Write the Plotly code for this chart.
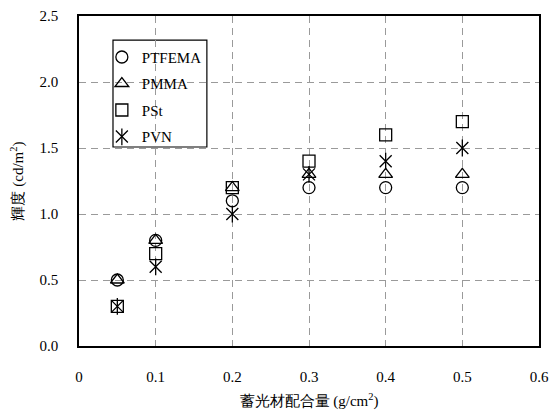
import plotly.graph_objects as go

x_vals = [0.05, 0.1, 0.2, 0.3, 0.4, 0.5]
ptfema = [0.5, 0.8, 1.1, 1.2, 1.2, 1.2]
pmma = [0.5, 0.8, 1.2, 1.3, 1.3, 1.3]
pst = [0.3, 0.7, 1.2, 1.4, 1.6, 1.7]
pvn = [0.3, 0.6, 1.0, 1.3, 1.4, 1.5]

x_ticks = [0, 0.1, 0.2, 0.3, 0.4, 0.5, 0.6]
x_ticktext = ["0", "0.1", "0.2", "0.3", "0.4", "0.5", "0.6"]
y_ticks = [0.0, 0.5, 1.0, 1.5, 2.0, 2.5]
y_ticktext = ["0.0", "0.5", "1.0", "1.5", "2.0", "2.5"]

FONT = "Liberation Serif, Times New Roman, serif"

fig = go.Figure()
series = [
    ("PTFEMA", ptfema, "circle-open"),
    ("PMMA", pmma, "triangle-up-open"),
    ("PSt", pst, "square-open"),
    ("PVN", pvn, "x-thin-open"),
]
for name, ys, sym in series:
    fig.add_trace(go.Scatter(
        x=x_vals, y=ys, mode="markers", name=name, legendgroup=name,
        marker=dict(symbol=sym, size=12, color="black", line=dict(color="black", width=1.3)),
    ))
# vertical bar of the PVN asterisk
fig.add_trace(go.Scatter(
    x=x_vals, y=pvn, mode="markers", name=" ", legend="legend2", legendgroup="PVN2",
    marker=dict(symbol="line-ns-open", size=12, color="black", line=dict(color="black", width=1.3)),
))

axis_common = dict(
    showline=True, linecolor="black", linewidth=1.5, mirror=True,
    showgrid=True, gridcolor="#9a9a9a", gridwidth=1, griddash="7px,5px",
    zeroline=False, ticks="", automargin=False,
    tickfont=dict(family=FONT, size=15, color="black"),
)

fig.update_layout(
    width=557, height=416,
    margin=dict(l=79, r=18, t=16, b=70),
    paper_bgcolor="white", plot_bgcolor="white",
    font=dict(family=FONT, color="black"),
    xaxis=dict(
        range=[0, 0.6], tickvals=x_ticks, ticktext=x_ticktext,
        ticklabelstandoff=16,
        title=dict(text="蓄光材配合量 (g/cm<sup>2</sup>)", font=dict(family=FONT, size=15), standoff=12),
        **axis_common,
    ),
    yaxis=dict(
        range=[0, 2.5], tickvals=y_ticks, ticktext=y_ticktext,
        ticklabelstandoff=16,
        title=dict(text="輝度 (cd/m<sup>2</sup>)", font=dict(family=FONT, size=15), standoff=12),
        **axis_common,
    ),
    legend=dict(
        x=0.0497, y=0.925, xanchor="left", yanchor="top",
        bgcolor="rgba(0,0,0,0)", borderwidth=0,
        font=dict(family=FONT, size=15, color="black"),
        tracegroupgap=4, itemwidth=30,
    ),
    legend2=dict(
        x=0.0497, y=0.683, xanchor="left", yanchor="top",
        bgcolor="rgba(0,0,0,0)", borderwidth=0,
        font=dict(family=FONT, size=15, color="black"),
        itemwidth=30,
    ),
    shapes=[dict(
        type="rect", xref="paper", yref="paper",
        x0=0.0739, x1=0.278, y0=0.603, y1=0.927,
        line=dict(color="black", width=1.2), fillcolor="white", layer="below",
    )],
)

fig.write_html(
    "out.html",
    config={"displayModeBar": False},
    post_script="document.body.style.margin='0';document.body.style.overflow='hidden';",
)
